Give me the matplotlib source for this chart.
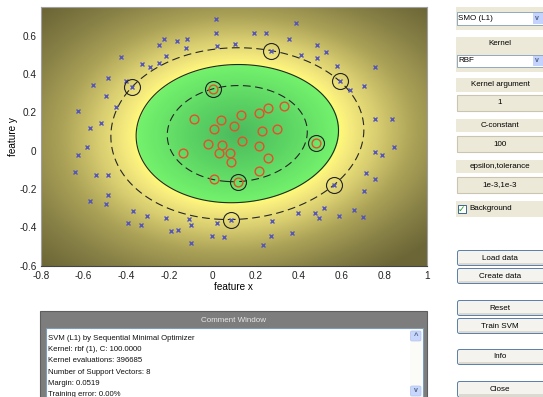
import numpy as np
import matplotlib.pyplot as plt
from matplotlib.colors import LinearSegmentedColormap
from matplotlib.patches import Rectangle, FancyBboxPatch

plt.rcParams['font.family'] = ['Liberation Sans', 'DejaVu Sans']

# ---------------------------------------------------------------------------------------------- #
# Data

# class +1 (red circles)
pos_x = [-0.084, 0.039, 0.131, 0.219, 0.257, 0.334, 0.009, 0.101, 0.233, 0.299, -0.022, 0.045,
         0.137, 0.219, -0.138, 0.030, 0.084, 0.087, 0.257, 0.216, 0.009, 0.119, 0.003, 0.484]
pos_y = [0.165, 0.160, 0.184, 0.195, 0.221, 0.231, 0.115, 0.130, 0.101, 0.111, 0.035, 0.031,
         0.050, 0.024, -0.010, -0.010, -0.010, -0.059, -0.038, -0.108, -0.150, -0.161, 0.323, 0.039]

# class -1 (blue crosses)
neg_x = [0.017, 0.017, 0.022, 0.107, 0.196, 0.250, 0.389, 0.358, 0.275, 0.487, 0.530, 0.487,
         0.414, 0.580, 0.757, 0.593, 0.642, 0.708, 0.757, 0.835, 0.845, 0.757, 0.792, 0.714,
         0.760, 0.708, 0.568, 0.521, 0.479, 0.588, 0.658, 0.702, 0.496, 0.401, 0.372, 0.280,
         0.272, 0.238, 0.056, -0.002, 0.023, 0.087, -0.100, -0.100, -0.107, -0.159, -0.193,
         -0.218, -0.303, -0.334, -0.370, -0.393, -0.485, -0.496, -0.571, -0.641, -0.627, -0.544,
         -0.488, -0.586, -0.571, -0.519, -0.624, -0.448, -0.496, -0.488, -0.557, -0.401, -0.375,
         -0.425, -0.327, -0.292, -0.249, -0.215, -0.249, -0.225, -0.163, -0.117, -0.123]
neg_y = [0.685, 0.612, 0.546, 0.555, 0.612, 0.612, 0.668, 0.584, 0.522, 0.553, 0.515, 0.485,
         0.497, 0.442, 0.435, 0.363, 0.317, 0.336, 0.167, 0.167, 0.021, -0.005, -0.024, -0.115,
         -0.150, -0.210, -0.177, -0.297, -0.327, -0.341, -0.310, -0.348, -0.351, -0.327, -0.428,
         -0.369, -0.445, -0.490, -0.449, -0.445, -0.376, -0.359, -0.480, -0.390, -0.358, -0.414,
         -0.417, -0.351, -0.341, -0.390, -0.317, -0.376, -0.230, -0.278, -0.261, -0.110, -0.024,
         -0.125, -0.125, 0.021, 0.118, 0.143, 0.207, 0.226, 0.285, 0.377, 0.344, 0.365, 0.332,
         0.487, 0.452, 0.435, 0.457, 0.494, 0.553, 0.584, 0.574, 0.584, 0.536]

# support vectors (indices into the arrays above)
sv_pos = [21, 22, 23]
sv_neg = [8, 15, 26, 41, 68]
sv_bounded = 23            # inside the margin, alpha = C

kernel_arg = 1.0
C = 100.0

x_ticks = [-0.8, -0.6, -0.4, -0.2, 0, 0.2, 0.4, 0.6, 0.8, 1]
y_ticks = [-0.6, -0.4, -0.2, 0, 0.2, 0.4, 0.6]

comment_lines = ['SVM (L1) by Sequential Minimal Optimizer',
                 'Kernel: rbf (1), C: 100.0000',
                 'Kernel evaluations: 396685',
                 'Number of Support Vectors: 8',
                 'Margin: 0.0519',
                 'Training error: 0.00%']

# ---------------------------------------------------------------------------------------------- #
# Decision function f(x) = sum beta_j k(sv_j, x) + b, solved from the support vectors:
# f = y on the margin SVs, sum beta = 0 and beta = C for the bounded one.

px = np.array(pos_x); py = np.array(pos_y)
nx = np.array(neg_x); ny = np.array(neg_y)

S = np.column_stack([np.concatenate([px[sv_pos], nx[sv_neg]]),
                     np.concatenate([py[sv_pos], ny[sv_neg]])])
ys = np.concatenate([np.ones(len(sv_pos)), -np.ones(len(sv_neg))])
nsv = len(ys)
ib = sv_pos.index(sv_bounded)

def kern(a, b):
    d2 = ((a[:, None, :] - b[None, :, :])**2).sum(-1)
    return np.exp(-0.5 * d2 / kernel_arg**2)

K = kern(S, S)
M = np.zeros((nsv + 1, nsv + 1))
rhs = np.zeros(nsv + 1)
row = 0
for i in range(nsv):
    if i == ib:
        continue
    M[row, :nsv] = K[i]
    M[row, nsv] = 1.0
    rhs[row] = ys[i]
    row += 1
M[row, :nsv] = 1.0
row += 1
M[row, ib] = 1.0
rhs[row] = C
sol = np.linalg.solve(M, rhs)
beta, b0 = sol[:nsv], sol[nsv]

gx, gy = np.meshgrid(np.linspace(-0.8, 1.0, 540), np.linspace(-0.6, 0.75, 400))
G = np.column_stack([gx.ravel(), gy.ravel()])
F = (kern(G, S) @ beta + b0).reshape(gx.shape)

# colour by "radius" so the shading runs evenly from the boundary to the corners
A = F.max()
rad = np.sqrt(np.clip(A - F, 0, None))
r0 = np.sqrt(A)
rad_c = min(rad[0, 0], rad[0, -1], rad[-1, 0], rad[-1, -1])
s_neg = np.clip((rad - r0) / (rad_c - r0), 0, 1)
s_pos = np.clip(1 - rad / r0, 0, 1)

neg_cmap = LinearSegmentedColormap.from_list('neg', [(0.0, '#fffa78'), (0.07, '#f7ed7e'),
                                                     (0.28, '#d8cd70'), (0.52, '#aca358'),
                                                     (0.78, '#878046'), (1.0, '#6c6637')])
pos_cmap = LinearSegmentedColormap.from_list('pos', [(0.0, '#74f26c'), (0.5, '#5cd464'),
                                                     (1.0, '#4cba5c')])
rgb = np.where((F >= 0)[..., None], pos_cmap(s_pos)[..., :3], neg_cmap(s_neg)[..., :3])

# ---------------------------------------------------------------------------------------------- #
# Figure

fig = plt.figure(figsize=(5.43, 3.97), dpi=100)
W, H = 543.0, 397.0

ax = fig.add_axes([40.7/W, (H-265.7)/H, (427-40.7)/W, (265.7-7)/H])
ax.imshow(rgb, extent=[-0.8, 1.0, -0.6, 0.75], origin='lower', aspect='auto', interpolation='bilinear')
ax.contour(gx, gy, F, levels=[0], colors='#1f2a1f', linewidths=0.8)
ax.contour(gx, gy, F, levels=[-1, 1], colors='#262626', linewidths=0.8, linestyles=[(0, (7, 4))])

ax.plot(nx, ny, 'x', color='#5656b8', ms=3.2, mew=1.0)
ax.plot(px, py, 'o', mfc='none', mec='#e4502a', ms=6.3, mew=1.0)
ax.plot(S[:, 0], S[:, 1], 'o', mfc='none', mec='#222222', ms=11.5, mew=0.8)

ax.set_xlim(-0.8, 1.0)
ax.set_ylim(-0.6, 0.75)
ax.set_xticks(x_ticks)
ax.set_xticklabels([('%g' % t) for t in x_ticks])
ax.set_yticks(y_ticks)
ax.set_yticklabels([('%g' % t) for t in y_ticks])
ax.tick_params(length=0, labelsize=7.2, colors='#222222')
ax.tick_params(axis='x', pad=3.5)
ax.tick_params(axis='y', pad=3)
ax.set_xlabel('feature x', fontsize=7.2, labelpad=1)
ax.set_ylabel('feature y', fontsize=7.2, labelpad=1)
for s in ax.spines.values():
    s.set_color('#a0a0a0')
    s.set_linewidth(0.8)
ax.spines['bottom'].set_color('#444444')

# GUI overlay in pixel coordinates
gui = fig.add_axes([0, 0, 1, 1])
gui.set_xlim(0, W)
gui.set_ylim(H, 0)
gui.axis('off')
gui.patch.set_visible(False)

beige = '#ece9d8'
edge = '#7f9db9'
gfont = 5.8

def block(y0, y1, color=beige, ec='none'):
    gui.add_patch(Rectangle((456, y0), 90, y1 - y0, fc=color, ec=ec, lw=0.6))

def dropdown(y0, y1, text):
    block(y0 - 5, y1 + 5)
    gui.add_patch(Rectangle((457, y0), 88, y1 - y0, fc='white', ec=edge, lw=0.6))
    gui.add_patch(Rectangle((533, y0 + 1), 10, y1 - y0 - 2, fc='#c3d3fd', ec='none'))
    gui.text(536.5, (y0 + y1)/2, 'v', fontsize=5, color='#4d6185', ha='center', va='center',
             fontweight='bold')
    gui.text(458.5, (y0 + y1)/2, text, fontsize=gfont, ha='left', va='center')

def label(y0, y1, text):
    block(y0, y1)
    gui.text(500, (y0 + y1)/2, text, fontsize=gfont, ha='center', va='center')

def valuebox(y0, y1, text):
    gui.add_patch(Rectangle((457, y0), 88, y1 - y0, fc=beige, ec='#c9c5b2', lw=0.8))
    gui.text(500, (y0 + y1)/2, text, fontsize=gfont, ha='center', va='center')

def button(y0, y1, text):
    gui.add_patch(FancyBboxPatch((457.5, y0 + 0.5), 90, y1 - y0 - 1,
                                 boxstyle='round,pad=0,rounding_size=2',
                                 fc='#f4f3ee', ec='#5a7eaa', lw=0.7))
    gui.add_patch(Rectangle((459, y1 - 3.5), 88, 2.5, fc='#dcdad0', ec='none'))
    gui.text(500, (y0 + y1)/2, text, fontsize=gfont, ha='center', va='center')

dropdown(12, 25, 'SMO (L1)')
label(37, 50, 'Kernel')
dropdown(55, 67, 'RBF')
label(78, 92, 'Kernel argument')
valuebox(95, 111, '1')
label(119, 132, 'C-constant')
valuebox(136, 152, '100')
label(160, 173, 'epsilon,tolerance')
valuebox(177, 193, '1e-3,1e-3')
block(201, 217)
gui.add_patch(Rectangle((457.5, 204.5), 8.5, 8.5, fc='white', ec='#1c5180', lw=0.6))
gui.text(461.8, 209, '\u2713', fontsize=6.5, color='#21a121', ha='center', va='center',
         fontweight='bold', family=['DejaVu Sans'])
gui.text(469, 209, 'Background', fontsize=gfont, ha='left', va='center')

button(250, 266, 'Load data')
button(268, 284, 'Create data')
button(300, 316, 'Reset')
button(318, 334, 'Train SVM')
button(349, 365, 'Info')
button(381, 397.5, 'Close')

# comment window
gui.add_patch(Rectangle((40, 311), 387, 90, fc='#7d7d7d', ec='#5e5e5e', lw=0.8))
gui.text(233.5, 320, 'Comment Window', fontsize=gfont, color='#e6e6e6', ha='center', va='center')
gui.add_patch(Rectangle((46, 328), 376.5, 75, fc='white', ec=edge, lw=0.8))
for i, line in enumerate(comment_lines):
    gui.text(47.5, 338 + i*11.4, line, fontsize=5.6, ha='left', va='center', color='#111111')
gui.add_patch(Rectangle((410, 329), 12, 70, fc='#fbfbf8', ec='none'))
gui.add_patch(FancyBboxPatch((410.5, 331), 10.5, 10, boxstyle='round,pad=0,rounding_size=1.5',
                             fc='#c8d6fb', ec='#b0c3f0', lw=0.5))
gui.add_patch(FancyBboxPatch((410.5, 386), 10.5, 10, boxstyle='round,pad=0,rounding_size=1.5',
                             fc='#c8d6fb', ec='#b0c3f0', lw=0.5))
gui.text(415.8, 336.5, '^', fontsize=5.5, color='#4d6185', ha='center', va='center', fontweight='bold')
gui.text(415.8, 390.5, 'v', fontsize=5, color='#4d6185', ha='center', va='center', fontweight='bold')

plt.savefig('out.png', dpi=100)
